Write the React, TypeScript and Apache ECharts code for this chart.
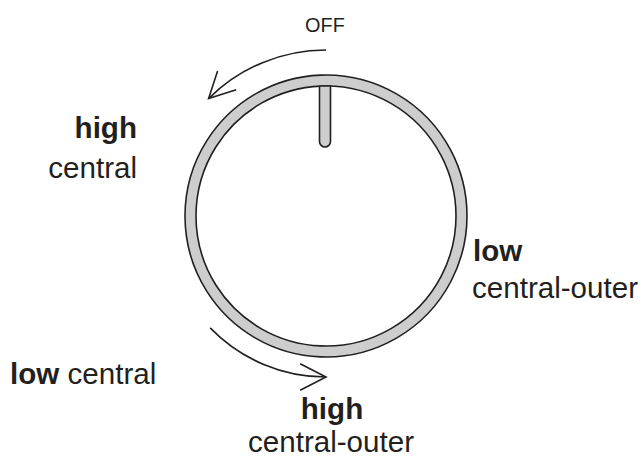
import React, { useEffect, useRef } from "react";
import * as echarts from "echarts";

// Labels of the knob diagram
const offLabel = ["OFF"];
const upperLeftLabel = ["high", "central"];
const rightLabel = ["low", "central-outer"];
const lowerLeftLabel = ["low", "central"];
const bottomLabel = ["high", "central-outer"];

// Arrow sweeps (degrees, screen coords, clockwise positive)
const topArrowDeg = [-90, -135];
const bottomArrowDeg = [136, 90];

const INK = "#231f20";
const FONT = "Arial, 'Liberation Sans', Helvetica, sans-serif";
const SX = 1.02;
const FS = 29;

function arrowEls(cx: number, cy: number, r: number, fromDeg: number, toDeg: number) {
  const a0 = (fromDeg * Math.PI) / 180;
  const a1 = (toDeg * Math.PI) / 180;
  const tip = [cx + r * Math.cos(a1), cy + r * Math.sin(a1)];
  const dir = a1 < a0 ? [Math.sin(a1), -Math.cos(a1)] : [-Math.sin(a1), Math.cos(a1)];
  const back = Math.atan2(-dir[1], -dir[0]);
  const len = 29;
  const spread = (27 * Math.PI) / 180;
  const p1 = [tip[0] + len * Math.cos(back + spread), tip[1] + len * Math.sin(back + spread)];
  const p2 = [tip[0] + len * Math.cos(back - spread), tip[1] + len * Math.sin(back - spread)];
  return [
    {
      type: "arc",
      shape: {
        cx,
        cy,
        r,
        startAngle: Math.min(a0, a1),
        endAngle: Math.max(a0, a1),
        clockwise: true,
      },
      style: { stroke: INK, lineWidth: 1.6, fill: null },
    },
    {
      type: "polyline",
      shape: { points: [p1, tip, p2] },
      style: { stroke: INK, lineWidth: 1.6, fill: null },
    },
  ];
}

// baseline is the alphabetic baseline
function label(text: string, x: number, baseline: number, size: number, weight: string, align: string) {
  return {
    type: "text",
    x,
    y: baseline - 0.3465 * size,
    scaleX: SX,
    scaleY: 1,
    style: {
      text,
      x: 0,
      y: 0,
      fill: INK,
      font: `${weight} ${size}px ${FONT}`,
      fontSize: size,
      fontWeight: weight,
      fontFamily: FONT,
      align,
      textAlign: align,
      verticalAlign: "middle",
      textVerticalAlign: "middle",
    },
  };
}

export default function App() {
  const ref = useRef<HTMLDivElement>(null);
  useEffect(() => {
    if (!ref.current) return;
    const chart = echarts.init(ref.current, null, { renderer: "svg" });
    const cx = 326;
    const cy = 216;
    const elements: any[] = [
      {
        type: "circle",
        shape: { cx, cy, r: 141 },
        style: { fill: "#cdcdcd", stroke: INK, lineWidth: 1.6 },
      },
      {
        type: "circle",
        shape: { cx, cy, r: 130 },
        style: { fill: "#ffffff", stroke: INK, lineWidth: 1.6 },
      },
      {
        type: "rect",
        shape: { x: 319.5, y: 86, width: 11, height: 61, r: [0, 0, 5.5, 5.5] },
        style: { fill: "#cdcdcd", stroke: INK, lineWidth: 1.6 },
      },
      ...arrowEls(cx, cy, 166, topArrowDeg[0], topArrowDeg[1]),
      ...arrowEls(cx, cy, 161, bottomArrowDeg[0], bottomArrowDeg[1]),
      label(offLabel[0], 325, 31.5, 19.5, "normal", "center"),
      label(upperLeftLabel[0], 137, 138, FS, "bold", "right"),
      label(upperLeftLabel[1], 137, 178, FS, "normal", "right"),
      label(rightLabel[0], 473, 260.5, FS, "bold", "left"),
      label(rightLabel[1], 472, 297.5, FS, "normal", "left"),
      {
        type: "text",
        x: 10,
        y: 383.5 - 0.3465 * FS,
        scaleX: SX,
        scaleY: 1,
        style: {
          text: `{b|${lowerLeftLabel[0]}} {n|${lowerLeftLabel[1]}}`,
          x: 0,
          y: 0,
          fill: INK,
          font: `normal ${FS}px ${FONT}`,
          align: "left",
          textAlign: "left",
          verticalAlign: "middle",
          textVerticalAlign: "middle",
          rich: {
            b: { fontSize: FS, fontWeight: "bold", fontFamily: FONT, fill: INK },
            n: { fontSize: FS, fontWeight: "normal", fontFamily: FONT, fill: INK },
          },
        },
      },
      label(bottomLabel[0], 332, 418.5, FS, "bold", "center"),
      label(bottomLabel[1], 331, 452, FS, "normal", "center"),
    ];
    chart.setOption({
      animation: false,
      backgroundColor: "#ffffff",
      graphic: { elements },
    });
    return () => chart.dispose();
  }, []);
  return (
    <div
      ref={ref}
      style={{ position: "fixed", left: 0, top: 0, width: 642, height: 459 }}
    />
  );
}
